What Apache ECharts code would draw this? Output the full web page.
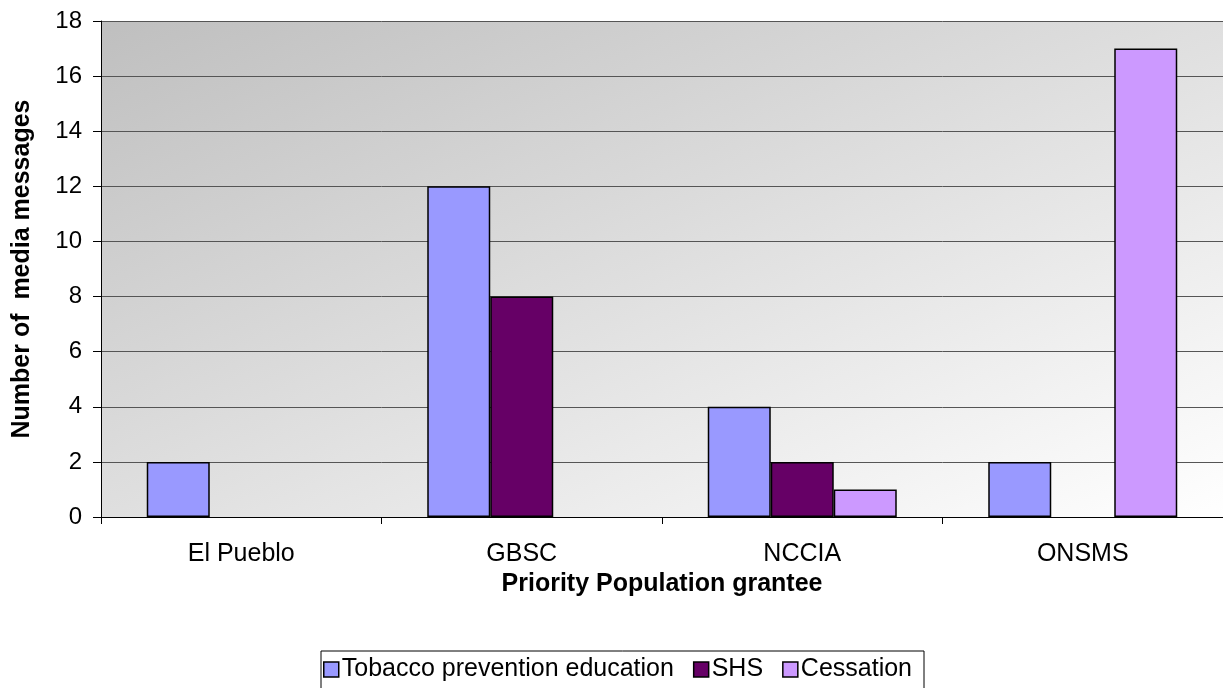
<!DOCTYPE html>
<html><head><meta charset="utf-8">
<script src="https://cdn.jsdelivr.net/npm/echarts@6/dist/echarts.min.js"></script>
<style>html,body{margin:0;padding:0;background:#fff}#c{width:1223px;height:688px}</style>
</head><body><div id="c"></div>
<script>
const categories = ['El Pueblo', 'GBSC', 'NCCIA', 'ONSMS'];
const tobacco = [2, 12, 4, 2];
const shs = [0, 8, 2, 0];
const cessation = [0, 0, 1, 17];
const seriesNames = ['Tobacco prevention education', 'SHS', 'Cessation'];
const colors = ['#9999FF', '#660066', '#CC99FF'];

const chart = echarts.init(document.getElementById('c'));
const font = 'Arial, "Liberation Sans", sans-serif';
function mk(name, data, color) {
  return {
    name: name, type: 'bar', data: data.map(v => v === 0 ? null : v),
    barWidth: 63, barGap: '0%',
    itemStyle: { color: color, borderColor: '#000', borderWidth: 1.5 }
  };
}
chart.setOption({
  animation: false,
  textStyle: { fontFamily: font },
  grid: {
    left: 101, right: -7, top: 21, bottom: 171, show: true,
    borderWidth: 0,
    backgroundColor: new echarts.graphic.LinearGradient(101, 21, 467, 852, [
      { offset: 0, color: '#bfbfbf' }, { offset: 1, color: '#ffffff' }
    ], true)
  },
  legend: {
    left: 321, top: 651,
    itemWidth: 15, itemHeight: 15, itemGap: 19,
    borderColor: '#000', borderWidth: 1, padding: [6, 12, 10, 2],
    textStyle: { fontSize: 25, color: '#000', fontFamily: font, padding: [0, 0, 0, -2] },
    icon: 'rect',
    data: seriesNames.map(n => ({ name: n, itemStyle: { borderColor: '#000', borderWidth: 1.5 } }))
  },
  xAxis: {
    type: 'category', data: categories,
    name: 'Priority Population grantee', nameLocation: 'middle', nameGap: 48,
    nameTextStyle: { fontSize: 25, fontWeight: 'bold', color: '#000', fontFamily: font },
    axisLine: { lineStyle: { color: '#000', width: 1 } },
    axisTick: { show: true, length: 7, lineStyle: { color: '#000' } },
    axisLabel: { fontSize: 25, color: '#000', margin: 25, fontFamily: font }
  },
  yAxis: {
    type: 'value', min: 0, max: 18, interval: 2,
    name: 'Number of  media messages', nameLocation: 'middle', nameGap: 66,
    nameTextStyle: { fontSize: 25, fontWeight: 'bold', color: '#000', fontFamily: font },
    axisLine: { show: true, lineStyle: { color: '#000' } },
    axisTick: { show: true, length: 8, lineStyle: { color: '#000' } },
    axisLabel: { fontSize: 24, color: '#000', margin: 19, fontFamily: font },
    splitLine: { show: true, lineStyle: { color: '#555', width: 1 } }
  },
  series: [mk(seriesNames[0], tobacco, colors[0]), mk(seriesNames[1], shs, colors[1]), mk(seriesNames[2], cessation, colors[2])]
});
</script></body></html>
